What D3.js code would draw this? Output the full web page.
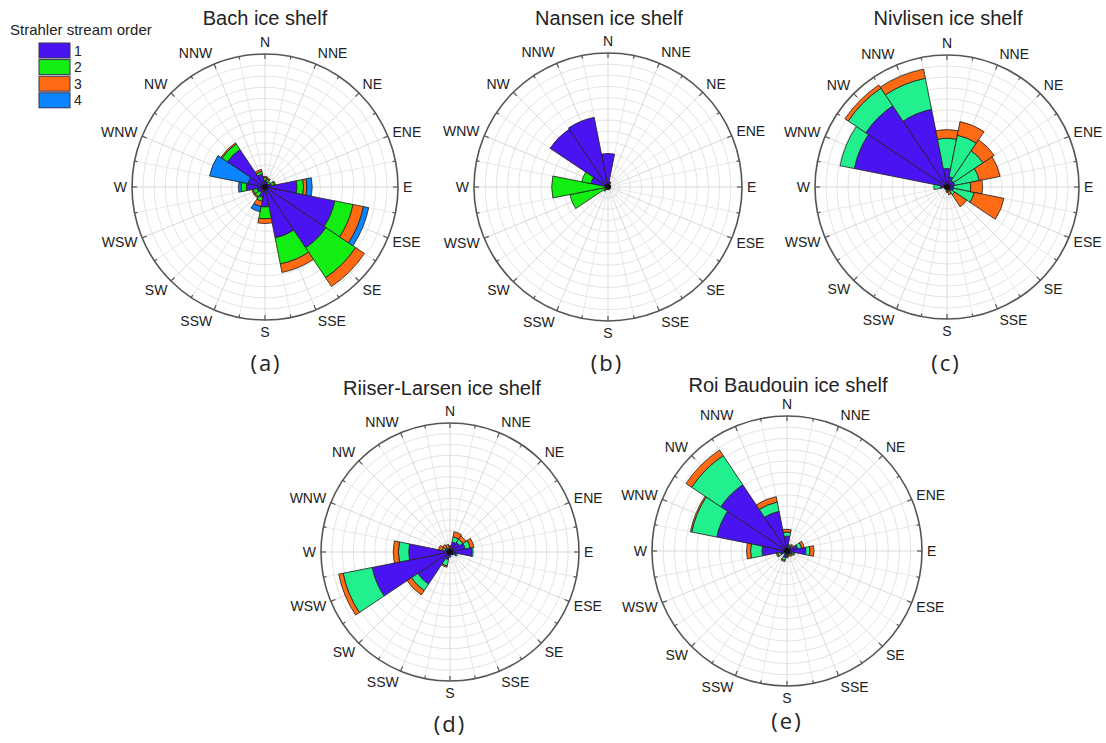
<!DOCTYPE html>
<html>
<head>
<meta charset="utf-8">
<script src="https://cdn.jsdelivr.net/npm/d3@7"></script>
<style>
  html, body { margin: 0; padding: 0; background: #ffffff; }
  svg { display: block; }
  text { font-family: "Liberation Sans", Arial, sans-serif; fill: #222; }
</style>
</head>
<body>
<svg id="chart" width="1106" height="743"></svg>
<script>
// ---------------- DATA (bar lengths, % of outer ring) ----------------
const directions = ["N","NNE","NE","ENE","E","ESE","SE","SSE","S","SSW","SW","WSW","W","WNW","NW","NNW"];
const orders = ["1","2","3","4"];
const legendTitle = "Strahler stream order";

const bachTitle = "Bach ice shelf";
const bachO1 = [5, 4, 3, 5, 24, 53.5, 55, 39, 15, 8, 5, 6, 14, 13, 34, 10];
const bachO2 = [2, 2, 2, 2, 5, 14, 27, 20, 9, 3, 4, 3, 4, 0, 5, 2];
const bachO3 = [1, 1, 0, 1, 2.5, 8, 8, 6.5, 3.5, 4, 1, 1, 0, 0, 1, 1.5];
const bachO4 = [0, 0, 0, 0, 4, 4, 0, 0, 0, 4, 0, 0, 2, 29.5, 0, 0];

const nansenTitle = "Nansen ice shelf";
const nansenO1 = [25, 4, 2, 2, 2, 1, 1, 1, 1, 1.5, 2, 2, 2, 13, 52, 53];
const nansenO2 = [0, 0, 0, 0, 0, 0, 0, 0, 0, 0, 2, 27, 40, 7, 0, 0];
const nansenO3 = [0, 0, 0, 0, 0, 0, 0, 0, 0, 0, 0, 0, 0, 0, 0, 0];
const nansenO4 = [0, 0, 0, 0, 0, 0, 0, 0, 0, 0, 0, 0, 0, 0, 0, 0];

const nivlisenTitle = "Nivlisen ice shelf";
const nivlisenO1 = [14, 8, 6, 6, 5, 5, 4, 2, 2, 1, 1, 1, 5, 71.6, 74, 60];
const nivlisenO2 = [23, 32, 27, 19, 13, 16, 3, 1, 1, 1, 1, 1, 5, 11, 16, 24];
const nivlisenO3 = [6.5, 10.5, 10, 16, 9, 23, 11, 3, 1, 0, 0, 0, 0, 0, 3, 7];
const nivlisenO4 = [0, 0, 0, 0, 0, 0, 0, 0, 0, 0, 0, 0, 0, 0, 0, 0];

const riiserTitle = "Riiser-Larsen ice shelf";
const riiserO1 = [3, 8, 9, 12, 17, 5, 3, 2, 3, 6, 30, 61.5, 32, 4, 3, 2];
const riiserO2 = [1, 4, 3, 4, 1, 1, 0, 0, 1, 5, 6, 23, 8, 2, 1, 1];
const riiserO3 = [1, 4, 3, 3, 0, 0, 0, 0, 0, 1, 4, 3.5, 4, 3, 3, 3];
const riiserO4 = [0, 0, 0, 0, 0, 0, 0, 0, 0, 0, 0, 0, 0, 0, 0, 0];

const roiTitle = "Roi Baudouin ice shelf";
const roiO1 = [11, 3, 4, 8, 14, 4, 3, 2, 3, 5, 2, 5, 18.5, 53, 59, 30];
const roiO2 = [3, 1, 1, 3, 3, 1, 1, 1, 1, 2, 1, 2, 8.5, 19, 26, 7];
const roiO3 = [2, 1, 1, 2, 3, 1, 1, 1, 1, 1, 0, 1, 3, 1, 5, 4];
const roiO4 = [0, 0, 0, 0, 0, 0, 0, 0, 0, 0, 0, 0, 0, 0, 0, 0];

const panelLetters = ["(a)", "(b)", "(c)", "(d)", "(e)"];
const radialMax = 100;

// ---------------- STYLE ----------------
const blue = "#4a14f2", lime = "#12ee12", mint = "#22f08e", orange = "#ff6a12", sky = "#0a84ff";
const legendColors = [blue, lime, orange, sky];

const panels = [
  { title: bachTitle,     series: [bachO1, bachO2, bachO3, bachO4],                 colors: [blue, lime, orange, sky], cx: 265, cy: 187, R: 133, tx: 265, ty: 25,  lx: 266, ly: 362 },
  { title: nansenTitle,   series: [nansenO1, nansenO2, nansenO3, nansenO4],         colors: [blue, lime, orange, sky], cx: 608, cy: 187, R: 134, tx: 609, ty: 25,  lx: 607, ly: 362 },
  { title: nivlisenTitle, series: [nivlisenO1, nivlisenO2, nivlisenO3, nivlisenO4], colors: [blue, mint, orange, sky], cx: 947, cy: 187, R: 132, tx: 948, ty: 25,  lx: 946, ly: 362 },
  { title: riiserTitle,   series: [riiserO1, riiserO2, riiserO3, riiserO4],         colors: [blue, mint, orange, sky], cx: 450, cy: 552, R: 129, tx: 442, ty: 395, lx: 450, ly: 723 },
  { title: roiTitle,      series: [roiO1, roiO2, roiO3, roiO4],                     colors: [blue, mint, orange, sky], cx: 787, cy: 551, R: 135, tx: 788, ty: 392, lx: 787, ly: 720 }
];

const svg = d3.select("#chart");
const toRad = d => d * Math.PI / 180;
const angle = d3.scaleBand().domain(directions).range([-Math.PI / 16, 2 * Math.PI - Math.PI / 16]);

panels.forEach((p, pi) => {
  const g = svg.append("g").attr("transform", `translate(${p.cx},${p.cy})`);
  const r = d3.scaleLinear().domain([0, radialMax]).range([0, p.R]);

  // grid rings
  const rings = d3.range(1, 12).map(i => i * radialMax / 12);
  g.selectAll("circle.ring").data(rings).join("circle")
    .attr("r", d => r(d)).attr("fill", "none").attr("stroke", "#dcdcdc").attr("stroke-width", 0.8);
  // spokes
  const spokes = d3.range(0, 360, 11.25);
  g.selectAll("line.spoke").data(spokes).join("line")
    .attr("x1", 0).attr("y1", 0)
    .attr("x2", d => r(radialMax) * Math.sin(toRad(d)))
    .attr("y2", d => -r(radialMax) * Math.cos(toRad(d)))
    .attr("stroke", d => (d % 22.5 === 0) ? "#cfcfcf" : "#e2e2e2").attr("stroke-width", 0.8);

  // stacked bars
  const rows = directions.map((dir, i) => {
    const o = { dir };
    orders.forEach((k, j) => o[k] = p.series[j][i]);
    return o;
  });
  const stacked = d3.stack().keys(orders)(rows);
  const arc = d3.arc()
    .innerRadius(d => r(d[0])).outerRadius(d => r(d[1]))
    .startAngle(d => angle(d.data.dir)).endAngle(d => angle(d.data.dir) + angle.bandwidth());
  stacked.forEach((layer, j) => {
    g.append("g").selectAll("path").data(layer.filter(d => d[1] - d[0] > 0)).join("path")
      .attr("d", arc).attr("fill", p.colors[j]).attr("stroke", "#1e1e1e").attr("stroke-width", 0.8)
      .attr("stroke-linejoin", "miter");
  });
  g.append("circle").attr("r", 3).attr("fill", "#111");

  // outer circle + ticks
  g.append("circle").attr("r", r(radialMax)).attr("fill", "none").attr("stroke", "#555").attr("stroke-width", 1.6);
  g.selectAll("line.tick").data(d3.range(0, 360, 11.25)).join("line")
    .attr("x1", d => r(radialMax) * Math.sin(toRad(d)))
    .attr("y1", d => -r(radialMax) * Math.cos(toRad(d)))
    .attr("x2", d => (r(radialMax) - ((d % 22.5 === 0) ? 5 : 3)) * Math.sin(toRad(d)))
    .attr("y2", d => -(r(radialMax) - ((d % 22.5 === 0) ? 5 : 3)) * Math.cos(toRad(d)))
    .attr("stroke", "#555").attr("stroke-width", 1.2);

  // direction labels
  directions.forEach((dir, i) => {
    const a = toRad(i * 22.5), s = Math.sin(a), c = Math.cos(a);
    const rr = r(radialMax) + 5;
    g.append("text")
      .attr("x", rr * s).attr("y", -rr * c - 7 * c)
      .attr("text-anchor", Math.abs(s) < 0.1 ? "middle" : (s > 0 ? "start" : "end"))
      .attr("dominant-baseline", "central")
      .attr("font-size", 14).text(dir);
  });

  // title + panel letter
  svg.append("text").attr("x", p.tx).attr("y", p.ty).attr("text-anchor", "middle")
    .attr("font-size", 20).text(p.title);
  svg.append("text").attr("x", p.lx).attr("y", p.ly).attr("text-anchor", "middle")
    .attr("dominant-baseline", "central")
    .style("font-family", "'Open Sans', sans-serif").attr("font-size", 22).attr("letter-spacing", 2)
    .text(panelLetters[pi]);
});

// legend
const lg = svg.append("g");
lg.append("text").attr("x", 10).attr("y", 35).attr("font-size", 15).text(legendTitle);
orders.forEach((o, i) => {
  lg.append("rect").attr("x", 39).attr("y", 43 + i * 16.6).attr("width", 31).attr("height", 15)
    .attr("fill", legendColors[i]).attr("stroke", "#333355").attr("stroke-width", 1);
  lg.append("text").attr("x", 74).attr("y", 43 + i * 16.6 + 7.5).attr("dominant-baseline", "central")
    .attr("font-size", 14).text(o);
});
</script>
</body>
</html>
